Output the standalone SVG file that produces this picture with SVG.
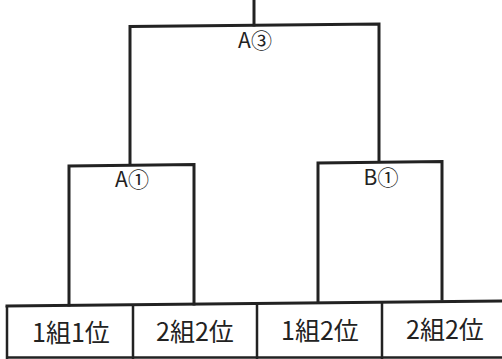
<svg xmlns="http://www.w3.org/2000/svg" width="502" height="359" viewBox="0 0 502 359">
<style>
.ln{stroke:#222;stroke-width:3;fill:none;stroke-linecap:square}
.tb{stroke:#222;stroke-width:2.5;fill:none}
.lb{font-family:"Noto Sans CJK JP","Noto Sans",sans-serif;fill:#222;text-anchor:middle}
.cl{font-size:25px}
.nl{font-size:21px}
</style>
<rect width="502" height="359" fill="#fff"/>
<g id="connectors">
<path class="ln" d="M254,0 V25"/>
<path class="ln" d="M130,163 V26.5 L379,24 V161"/>
<path class="ln" d="M69,305 V166 L194,164.5 V304"/>
<path class="ln" d="M318,301 V163 L442,161.5 V299"/>
</g>
<g id="n-a3"><text class="lb nl" x="255" y="48">A③</text></g>
<g id="n-a1"><text class="lb nl" x="132" y="187">A①</text></g>
<g id="n-b1"><text class="lb nl" x="381" y="185">B①</text></g>
<g id="table">
<path class="ln" d="M7,306 L502,301"/>
<path class="tb" d="M7,306 V359 M133,305 V359 M257,304 V359 M382,302 V359"/>
<path class="tb" d="M7,357.5 H502" stroke="#888"/>
</g>
<g id="c1"><text class="lb cl" x="71" y="342">1組1位</text></g>
<g id="c2"><text class="lb cl" x="195" y="341">2組2位</text></g>
<g id="c3"><text class="lb cl" x="320" y="340">1組2位</text></g>
<g id="c4"><text class="lb cl" x="445" y="339">2組2位</text></g>
</svg>
